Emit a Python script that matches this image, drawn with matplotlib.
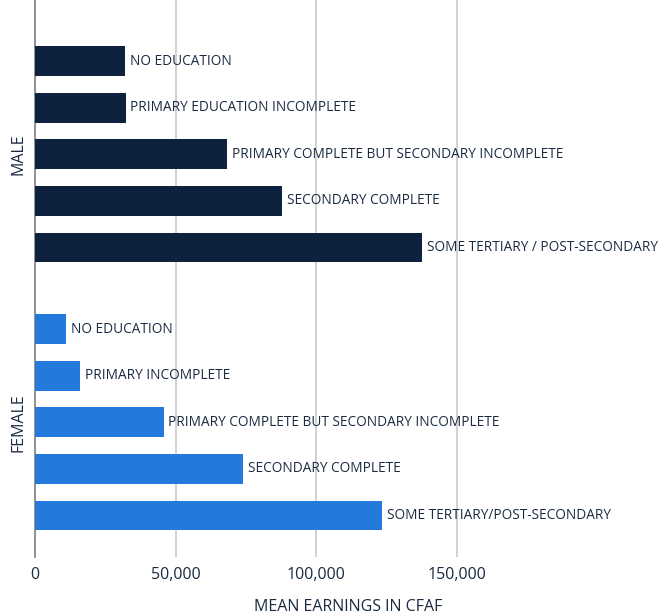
import matplotlib.pyplot as plt

male_labels = ["NO EDUCATION", "PRIMARY EDUCATION INCOMPLETE",
               "PRIMARY COMPLETE BUT SECONDARY INCOMPLETE", "SECONDARY COMPLETE",
               "SOME TERTIARY / POST-SECONDARY"]
male_values = [32000, 32200, 68100, 87900, 137400]

female_labels = ["NO EDUCATION", "PRIMARY INCOMPLETE",
                 "PRIMARY COMPLETE BUT SECONDARY INCOMPLETE", "SECONDARY COMPLETE",
                 "SOME TERTIARY/POST-SECONDARY"]
female_values = [10900, 15900, 45700, 74000, 123400]

xticks = [0, 50000, 100000, 150000]

plt.rcParams["font.family"] = ["Open Sans", "DejaVu Sans"]

text_color = "#1a2a40"
male_color = "#0e2240"
female_color = "#2479dc"

fig = plt.figure(figsize=(6.62, 6.15), dpi=100)
ax = fig.add_axes([35 / 662, 1 - 557 / 615, 1 - 35 / 662, 557 / 615])

male_pos = list(range(5))
female_pos = [p + 5.75 for p in range(5)]

ax.barh(male_pos, male_values, height=0.64, color=male_color, zorder=3)
ax.barh(female_pos, female_values, height=0.64, color=female_color, zorder=3)

for pos, val, lab in zip(male_pos + female_pos, male_values + female_values,
                         male_labels + female_labels):
    ax.annotate(lab, (val, pos), xytext=(3.5, 0), textcoords="offset points",
                va="center", ha="left", fontsize=9.85, color=text_color)

tr = ax.get_yaxis_transform()
ax.text(-0.026, 2, "MALE", transform=tr, rotation=90, ha="center", va="center",
        fontsize=11.5, color=text_color)
ax.text(-0.026, 7.75, "FEMALE", transform=tr, rotation=90, ha="center", va="center",
        fontsize=11.5, color=text_color)

ax.set_xlim(0, 222800)
ax.set_ylim(10.64, -1.31)
ax.set_xticks(xticks)
ax.set_xticklabels([f"{t:,}" for t in xticks], fontsize=11.5, color=text_color)
ax.tick_params(axis="x", length=0, pad=7)
ax.set_yticks([])
ax.grid(axis="x", color="#c9c9cc", linewidth=1.2, zorder=0)
for s in ["top", "right", "bottom"]:
    ax.spines[s].set_visible(False)
ax.spines["left"].set_color("#8a8a8a")
ax.spines["left"].set_linewidth(1.3)
ax.set_xlabel("MEAN EARNINGS IN CFAF", fontsize=11.5, color=text_color, labelpad=12)

fig.savefig("out.png", dpi=100)
